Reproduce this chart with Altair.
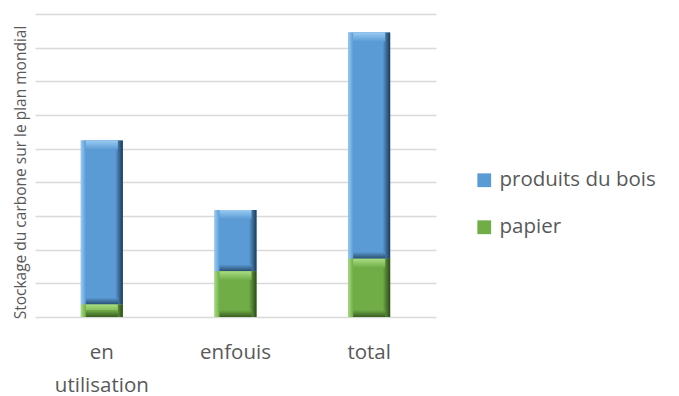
import altair as alt
import pandas as pd

# Global carbon storage by use (arbitrary units, stacked)
categories = ["en utilisation", "enfouis", "total"]
series = ["produits du bois", "papier"]
papier = [0.37, 1.36, 1.73]
produits_bois = [4.87, 1.82, 6.72]

rows = []
for cat, p, b in zip(categories, papier, produits_bois):
    rows.append({"cat": cat, "serie": "papier", "start": 0.0, "end": p})
    rows.append({"cat": cat, "serie": "produits du bois", "start": p, "end": p + b})
df = pd.DataFrame(rows)

BLUE, BLUE_LIGHT, BLUE_DARK = "#5B9BD5", "#9ACBF3", "#1C3A57"
GREEN, GREEN_LIGHT, GREEN_DARK = "#70AD47", "#A8DC82", "#2B4A19"
BAR_W = 42

x_enc = alt.X(
    "cat:N",
    sort=categories,
    scale=alt.Scale(paddingInner=0, paddingOuter=0),
    axis=alt.Axis(
        title=None,
        labelAngle=0,
        labelFont="Open Sans",
        labelFontSize=20.5,
        labelColor="#595959",
        labelPadding=25,
        labelLineHeight=33,
        labelExpr="split(datum.label, ' ')",
        ticks=False,
        domain=False,
    ),
)
y_scale = alt.Scale(domain=[0, 9], nice=False)
y_axis = alt.Axis(
    title="Stockage du carbone sur le plan mondial",
    titleFont="Open Sans",
    titleFontSize=15.5,
    titleFontWeight="normal",
    titleColor="#595959",
    titleX=-15,
    titleY=158,
    titleBaseline="middle",
    labels=False,
    ticks=False,
    domain=False,
    grid=True,
    gridColor="#D9D9D9",
    gridWidth=1.6,
    values=list(range(10)),
)
y_start = alt.Y("start:Q", scale=y_scale, axis=y_axis)
y_end = alt.Y("end:Q", scale=y_scale, axis=y_axis)

base = alt.Chart(df)

# solid body, also carries the legend
body = base.mark_bar(size=BAR_W).encode(
    x=x_enc,
    y=y_start,
    y2="end:Q",
    color=alt.Color(
        "serie:N",
        scale=alt.Scale(domain=series, range=[BLUE, GREEN]),
        legend=alt.Legend(
            title=None,
            orient="none",
            legendX=439,
            legendY=156,
            symbolType="square",
            symbolSize=190,
            symbolStrokeWidth=0,
            labelFont="Open Sans",
            labelFontSize=20.5,
            labelColor="#595959",
            rowPadding=26,
            labelOffset=5,
        ),
    ),
)


def bevel_layers(name, main, light, dark):
    sub = base.transform_filter(alt.datum.serie == name)
    side = sub.mark_bar(
        size=BAR_W,
        fill=alt.Gradient(
            gradient="linear", x1=0, x2=1, y1=0, y2=0,
            stops=[
                alt.GradientStop(offset=0, color=light),
                alt.GradientStop(offset=0.12, color=main),
                alt.GradientStop(offset=0.82, color=main),
                alt.GradientStop(offset=1, color=dark),
            ],
        ),
    ).encode(x=x_enc, y=y_start, y2="end:Q")
    top = sub.mark_bar(
        size=BAR_W - 10,
        y2Offset=9,
        fill=alt.Gradient(
            gradient="linear", x1=0, x2=0, y1=0, y2=1,
            stops=[
                alt.GradientStop(offset=0, color=light),
                alt.GradientStop(offset=1, color=main),
            ],
        ),
    ).encode(x=x_enc, y=y_end, y2="end:Q")
    bottom = sub.mark_bar(
        size=BAR_W - 10,
        yOffset=-7,
        fill=alt.Gradient(
            gradient="linear", x1=0, x2=0, y1=0, y2=1,
            stops=[
                alt.GradientStop(offset=0, color=main),
                alt.GradientStop(offset=1, color=dark),
            ],
        ),
        opacity=0.8,
    ).encode(x=x_enc, y=y_start, y2="start:Q")
    return [side, top, bottom]


layers = [body] + bevel_layers("produits du bois", BLUE, BLUE_LIGHT, BLUE_DARK) \
    + bevel_layers("papier", GREEN, GREEN_LIGHT, GREEN_DARK)

chart = alt.layer(*layers).properties(
    width=401,
    height=303,
    autosize=alt.AutoSizeParams(type="none"),
    padding={"left": 35, "top": 14, "right": 243, "bottom": 79},
    background="white",
).configure_view(stroke=None)

chart.save("out.html", embed_options={"renderer": "svg", "actions": False})
